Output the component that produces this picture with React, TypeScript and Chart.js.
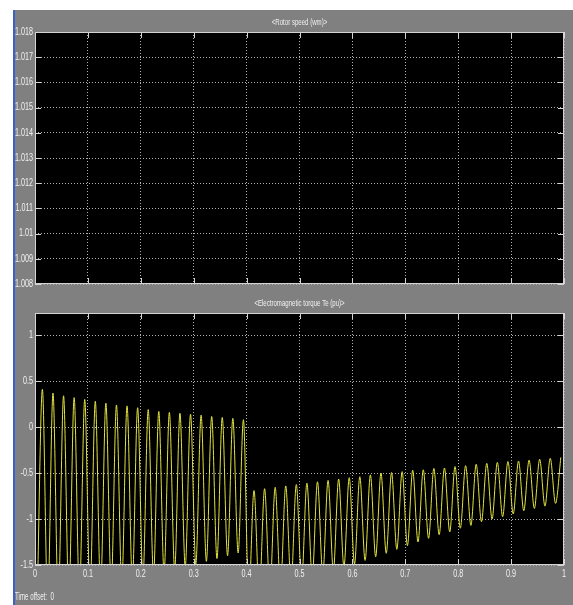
import React, { useEffect, useRef } from "react";
import { Chart, registerables } from "chart.js";

Chart.register(...registerables);

// ---- data ----
const speedTitle = "<Rotor speed (wm)>";
const torqueTitle = "<Electromagnetic torque Te (pu)>";
const timeOffsetLabel = "Time offset:  0";

const timeTicks = [0, 0.1, 0.2, 0.3, 0.4, 0.5, 0.6, 0.7, 0.8, 0.9, 1];
const speedTicks = [1.008, 1.009, 1.01, 1.011, 1.012, 1.013, 1.014, 1.015, 1.016, 1.017, 1.018];
const torqueTicks = [-1.5, -1, -0.5, 0, 0.5, 1];
const speedRange = [1.008, 1.018];
const torqueRange = [-1.5, 1.24];
const timeRange = [0, 1];

// rotor speed trace lies outside the displayed range (nothing visible)
const speedTimes: number[] = [];
const speedValues: number[] = [];

// torque: times and values of each trough and peak of the 50 Hz oscillation
const troughTimes = [
  0.004, 0.024, 0.044, 0.064, 0.084, 0.104, 0.124, 0.144, 0.164, 0.184,
  0.204, 0.224, 0.244, 0.264, 0.284, 0.304, 0.324, 0.344, 0.364, 0.384,
  0.404, 0.424, 0.444, 0.464, 0.484, 0.504, 0.524, 0.544, 0.564, 0.584,
  0.604, 0.624, 0.644, 0.664, 0.684, 0.704, 0.724, 0.744, 0.764, 0.784,
  0.804, 0.824, 0.844, 0.864, 0.884, 0.904, 0.924, 0.944, 0.964, 0.984,
];
const troughValues = [
  -1.95, -1.92, -1.88, -1.85, -1.82, -1.79, -1.76, -1.73, -1.7, -1.67,
  -1.64, -1.61, -1.58, -1.55, -1.52, -1.49, -1.46, -1.43, -1.4, -1.37,
  -1.86, -1.82, -1.78, -1.74, -1.7, -1.67, -1.63, -1.6, -1.56, -1.52,
  -1.49, -1.45, -1.41, -1.373, -1.33, -1.29, -1.25, -1.21, -1.17, -1.14,
  -1.1, -1.07, -1.03, -1.0, -0.975, -0.945, -0.91, -0.885, -0.86, -0.83,
];
const peakTimes = [
  0.014, 0.034, 0.054, 0.074, 0.094, 0.114, 0.134, 0.154, 0.174, 0.194,
  0.214, 0.234, 0.254, 0.274, 0.294, 0.314, 0.334, 0.354, 0.374, 0.394,
  0.414, 0.434, 0.454, 0.474, 0.494, 0.514, 0.534, 0.554, 0.574, 0.594,
  0.614, 0.634, 0.654, 0.674, 0.694, 0.714, 0.734, 0.754, 0.774, 0.794,
  0.814, 0.834, 0.854, 0.874, 0.894, 0.914, 0.934, 0.954, 0.974, 0.994,
];
const peakValues = [
  0.41, 0.37, 0.34, 0.32, 0.3, 0.28, 0.26, 0.24, 0.23, 0.21,
  0.19, 0.17, 0.16, 0.15, 0.14, 0.13, 0.115, 0.105, 0.095, 0.08,
  -0.69, -0.67, -0.655, -0.64, -0.625, -0.61, -0.595, -0.58, -0.565, -0.55,
  -0.54, -0.52, -0.5, -0.495, -0.485, -0.47, -0.465, -0.45, -0.445, -0.43,
  -0.42, -0.405, -0.395, -0.385, -0.375, -0.37, -0.36, -0.35, -0.34, -0.33,
];

// ---- styling ----
const FONT = "'Liberation Sans', Arial, sans-serif";
const TEXT = "#f0f0f0";
const GRID = "#b0b0b0";
const FRAME = "#d4d4d4";
const TRACE = "rgb(226,226,62)";
const TICK_SCALE = 0.72;
const TITLE_SCALE = 0.64;

function squeezedText(
  ctx: CanvasRenderingContext2D,
  text: string,
  x: number,
  y: number,
  sx: number,
  size: number,
  align: CanvasTextAlign,
  baseline: CanvasTextBaseline
) {
  ctx.save();
  ctx.translate(x, y);
  ctx.scale(sx, 1);
  ctx.font = `${size}px ${FONT}`;
  ctx.fillStyle = TEXT;
  ctx.textAlign = align;
  ctx.textBaseline = baseline;
  ctx.fillText(text, 0, 0);
  ctx.restore();
}

const scopePlugin = {
  id: "scopeFrame",
  beforeDraw(chart: any) {
    const { ctx, chartArea: a } = chart;
    ctx.save();
    ctx.fillStyle = "#000";
    ctx.fillRect(a.left, a.top, a.right - a.left, a.bottom - a.top);
    ctx.restore();
  },
  afterDraw(chart: any, _args: any, opts: any) {
    const { ctx, chartArea: a } = chart;
    const xs = chart.scales.x;
    const ys = chart.scales.y;
    ctx.save();
    ctx.strokeStyle = FRAME;
    ctx.lineWidth = 1;
    ctx.beginPath();
    for (const t of xs.ticks) {
      const px = Math.round(xs.getPixelForValue(t.value)) + 0.5;
      ctx.moveTo(px, a.bottom);
      ctx.lineTo(px, a.bottom - 6);
      ctx.moveTo(px, a.top);
      ctx.lineTo(px, a.top + 6);
    }
    for (const t of ys.ticks) {
      const py = Math.round(ys.getPixelForValue(t.value)) + 0.5;
      ctx.moveTo(a.left, py);
      ctx.lineTo(a.left + 6, py);
      ctx.moveTo(a.right, py);
      ctx.lineTo(a.right - 6, py);
    }
    ctx.stroke();
    ctx.strokeRect(
      Math.round(a.left) + 0.5,
      Math.round(a.top) + 0.5,
      Math.round(a.right - a.left) - 1,
      Math.round(a.bottom - a.top) - 1
    );
    ctx.restore();

    // y tick labels
    for (const t of ys.ticks) {
      squeezedText(ctx, String(t.value), a.left - 2, ys.getPixelForValue(t.value), TICK_SCALE, 10, "right", "middle");
    }
    // x tick labels
    if (opts && opts.xLabels) {
      for (const t of xs.ticks) {
        squeezedText(ctx, String(t.value), xs.getPixelForValue(t.value), a.bottom + 4, TICK_SCALE, 10, "center", "top");
      }
    }
    // title
    if (opts && opts.title) {
      squeezedText(ctx, opts.title, (a.left + a.right) / 2, a.top - 10, TITLE_SCALE, 9.5, "center", "middle");
    }
  },
};

function makeOptions(
  title: string,
  topPad: number,
  yRange: number[],
  yTicks: number[],
  showXLabels: boolean,
  xAxisHeight: number
): any {
  return {
    responsive: false,
    animation: false,
    devicePixelRatio: 1,
    layout: { padding: { left: 0, right: 9, top: topPad, bottom: 0 } },
    plugins: {
      legend: { display: false },
      tooltip: { enabled: false },
      title: { display: false },
      scopeFrame: { title, xLabels: showXLabels },
    },
    scales: {
      x: {
        type: "linear",
        min: timeRange[0],
        max: timeRange[1],
        afterBuildTicks: (s: any) => {
          s.ticks = timeTicks.map((v) => ({ value: v }));
        },
        afterFit: (s: any) => {
          s.height = xAxisHeight;
        },
        ticks: { display: false },
        grid: { color: GRID, drawTicks: false, lineWidth: 1 },
        border: { display: false, dash: [1, 2] },
      },
      y: {
        type: "linear",
        min: yRange[0],
        max: yRange[1],
        afterBuildTicks: (s: any) => {
          s.ticks = yTicks.map((v) => ({ value: v }));
        },
        afterFit: (s: any) => {
          s.width = 35;
        },
        ticks: { display: false },
        grid: { color: GRID, drawTicks: false, lineWidth: 1 },
        border: { display: false, dash: [1, 2] },
      },
    },
  };
}

export default function App() {
  const topRef = useRef<HTMLCanvasElement>(null);
  const botRef = useRef<HTMLCanvasElement>(null);

  useEffect(() => {
    const speedData = speedTimes.map((t, i) => ({ x: t, y: speedValues[i] }));
    const torqueData: { x: number; y: number }[] = [];
    troughTimes.forEach((t, i) => {
      torqueData.push({ x: t, y: troughValues[i] });
      torqueData.push({ x: peakTimes[i], y: peakValues[i] });
    });

    const top = new Chart(topRef.current as HTMLCanvasElement, {
      type: "line",
      data: {
        datasets: [
          { data: speedData, borderColor: TRACE, borderWidth: 1, pointRadius: 0 },
        ],
      },
      options: makeOptions(speedTitle, 32, speedRange, speedTicks, false, 8),
      plugins: [scopePlugin],
    } as any);

    const bot = new Chart(botRef.current as HTMLCanvasElement, {
      type: "line",
      data: {
        datasets: [
          {
            data: torqueData,
            borderColor: TRACE,
            borderWidth: 1,
            pointRadius: 0,
            cubicInterpolationMode: "monotone",
          },
        ],
      },
      options: makeOptions(torqueTitle, 21, torqueRange, torqueTicks, true, 40),
      plugins: [scopePlugin],
    } as any);

    return () => {
      top.destroy();
      bot.destroy();
    };
  }, []);

  return (
    <div
      style={{
        position: "absolute",
        left: 0,
        top: 0,
        width: 573,
        height: 605,
        background: "#fff",
        overflow: "hidden",
      }}
    >
      <div style={{ position: "absolute", left: 13, top: 10, width: 2, height: 595, background: "#3a62c6" }} />
      <div style={{ position: "absolute", left: 15, top: 10, width: 558, height: 595, background: "#808080" }} />
      <canvas
        ref={topRef}
        width={573}
        height={292}
        style={{ position: "absolute", left: 0, top: 0, width: 573, height: 292 }}
      />
      <canvas
        ref={botRef}
        width={573}
        height={313}
        style={{ position: "absolute", left: 0, top: 292, width: 573, height: 313 }}
      />
      <div
        style={{
          position: "absolute",
          left: 15,
          top: 591,
          fontFamily: FONT,
          fontSize: 10,
          lineHeight: "12px",
          color: TEXT,
          whiteSpace: "pre",
          transform: "scaleX(0.62)",
          transformOrigin: "left top",
        }}
      >
        {timeOffsetLabel}
      </div>
    </div>
  );
}
